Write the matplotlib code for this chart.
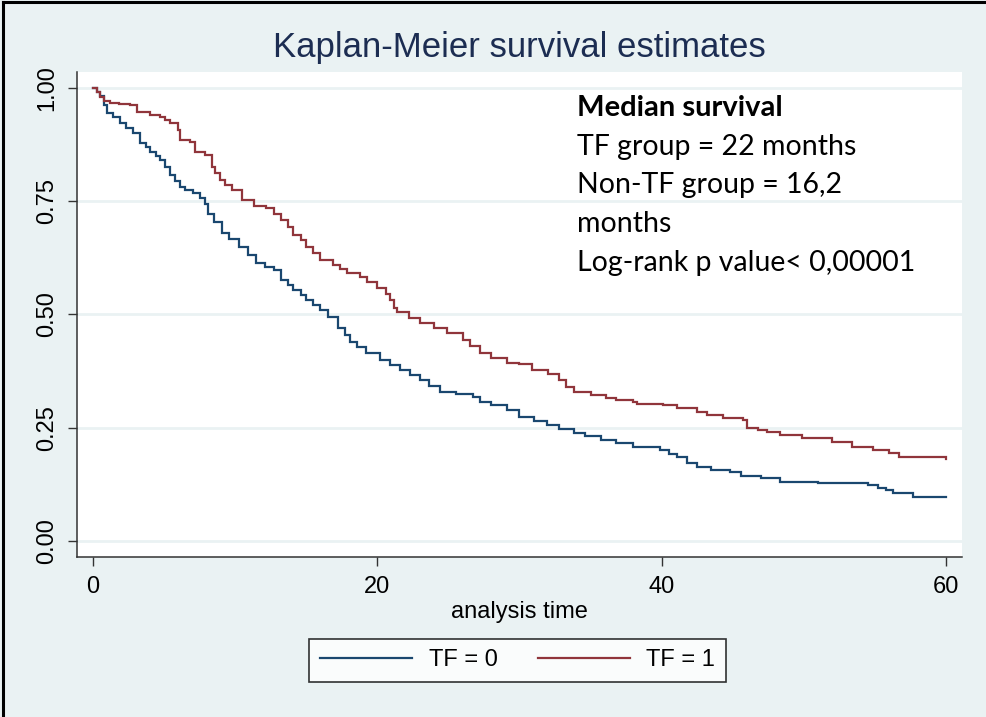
import matplotlib
matplotlib.use("Agg")
import matplotlib.pyplot as plt
from matplotlib.lines import Line2D

# Kaplan-Meier step estimates, TF = 0 group (time in months, survival)
tf0_time = [0, 0.3, 0.5, 0.8, 1.0, 1.4, 1.9, 2.3, 2.8, 3.3, 3.7, 4.0, 4.4, 4.7,
            5.1, 5.4, 5.8, 6.1, 6.5, 7.0, 7.5, 7.9, 8.1, 8.5, 9.1, 9.6, 10.3,
            10.9, 11.5, 12.1, 12.7, 13.2, 13.7, 14.1, 14.6, 15.0, 15.5, 16.0,
            16.5, 17.2, 17.7, 18.1, 18.6, 19.2, 20.2, 20.9, 21.6, 22.3, 23.0,
            23.6, 24.4, 25.5, 26.7, 27.2, 28.0, 29.1, 30.0, 31.0, 31.9, 32.8,
            33.8, 34.6, 35.7, 36.8, 38.0, 39.9, 40.5, 41.1, 41.8, 42.5, 43.5,
            44.8, 45.6, 47.0, 48.3, 51.0, 54.5, 55.2, 55.8, 56.3, 57.7, 60.0]
tf0_surv = [1.0, 0.990, 0.981, 0.962, 0.945, 0.935, 0.923, 0.912, 0.900, 0.879,
            0.870, 0.859, 0.850, 0.841, 0.825, 0.808, 0.795, 0.781, 0.775,
            0.768, 0.757, 0.744, 0.722, 0.703, 0.680, 0.667, 0.649, 0.632,
            0.614, 0.605, 0.598, 0.576, 0.565, 0.554, 0.543, 0.532, 0.521,
            0.510, 0.494, 0.470, 0.455, 0.440, 0.428, 0.415, 0.400, 0.388,
            0.377, 0.366, 0.355, 0.342, 0.329, 0.324, 0.318, 0.307, 0.300,
            0.289, 0.274, 0.265, 0.256, 0.247, 0.238, 0.231, 0.223, 0.216,
            0.207, 0.200, 0.193, 0.185, 0.172, 0.163, 0.158, 0.152, 0.143,
            0.139, 0.130, 0.128, 0.124, 0.118, 0.112, 0.106, 0.097, 0.097]

# Kaplan-Meier step estimates, TF = 1 group
tf1_time = [0, 0.3, 0.5, 0.8, 1.2, 1.8, 2.6, 3.1, 4.0, 4.7, 5.1, 5.4, 6.0, 6.1,
            6.8, 7.2, 7.9, 8.4, 8.6, 8.9, 9.3, 9.8, 10.5, 11.3, 12.2, 12.7,
            13.2, 13.7, 14.1, 14.6, 15.0, 15.5, 16.0, 16.9, 17.4, 17.9, 18.8,
            19.3, 20.0, 20.6, 20.9, 21.2, 21.4, 22.2, 23.0, 24.0, 24.9, 26.0,
            26.5, 27.2, 28.0, 29.1, 30.0, 30.9, 32.0, 32.8, 33.3, 33.8, 35.0,
            36.1, 36.8, 38.0, 38.3, 40.1, 41.1, 42.5, 43.2, 44.3, 45.7, 46.0,
            46.8, 47.4, 48.3, 49.9, 52.0, 53.4, 54.9, 56.0, 56.7, 59.7, 60.0]
tf1_surv = [1.0, 0.990, 0.980, 0.972, 0.967, 0.965, 0.962, 0.947, 0.940, 0.936,
            0.930, 0.923, 0.907, 0.885, 0.881, 0.859, 0.852, 0.826, 0.812,
            0.797, 0.785, 0.775, 0.753, 0.740, 0.735, 0.722, 0.709, 0.692,
            0.675, 0.665, 0.650, 0.636, 0.620, 0.610, 0.600, 0.592, 0.583,
            0.572, 0.558, 0.545, 0.532, 0.515, 0.506, 0.493, 0.481, 0.470,
            0.459, 0.444, 0.430, 0.415, 0.405, 0.393, 0.390, 0.377, 0.368,
            0.355, 0.340, 0.329, 0.322, 0.316, 0.311, 0.307, 0.302, 0.300,
            0.294, 0.285, 0.278, 0.272, 0.267, 0.249, 0.245, 0.241, 0.234,
            0.227, 0.219, 0.207, 0.201, 0.194, 0.185, 0.185, 0.181]

x_ticks = [0, 20, 40, 60]
y_ticks = [0.0, 0.25, 0.5, 0.75, 1.0]
y_ticklabels = ["0.00", "0.25", "0.50", "0.75", "1.00"]
legend_labels = ["TF = 0", "TF = 1"]
title_text = "Kaplan-Meier survival estimates"
xlabel_text = "analysis time"
note_header = "Median survival"
note_lines = ["TF group = 22 months", "Non-TF group = 16,2", "months",
              "Log-rank p value< 0,00001"]

BG = "#EAF2F3"
NAVY = "#1A476F"
MAROON = "#90353B"
SANS = ["Liberation Sans", "DejaVu Sans"]
NOTE_FONT = ["Lato", "DejaVu Sans"]

fig = plt.figure(figsize=(9.87, 7.17), dpi=100, facecolor=BG)
ax = fig.add_axes([77 / 987, 1 - 557 / 717, 885 / 987, 485 / 717])
ax.set_facecolor("white")

ax.set_xlim(-1.125, 61.125)
ax.set_ylim(-0.035, 1.035)

for yv in y_ticks:
    ax.axhline(yv, color=BG, lw=2.0, zorder=1)

ax.plot(tf0_time, tf0_surv, drawstyle="steps-post", color=NAVY, lw=1.6,
        zorder=3, solid_joinstyle="miter")
ax.plot(tf1_time, tf1_surv, drawstyle="steps-post", color=MAROON, lw=1.6,
        zorder=3, solid_joinstyle="miter")

for side in ("top", "right"):
    ax.spines[side].set_visible(False)
for side in ("left", "bottom"):
    ax.spines[side].set_color("#333333")
    ax.spines[side].set_linewidth(1.1)

ax.set_xticks(x_ticks)
ax.set_xticklabels([str(v) for v in x_ticks], family=SANS, fontsize=17)
ax.set_yticks(y_ticks)
ax.set_yticklabels(y_ticklabels, family=SANS, fontsize=17, rotation=90,
                   va="center")
ax.tick_params(axis="both", direction="out", length=6.5, width=1.0,
               color="#333333", pad=7)
ax.set_xlabel(xlabel_text, family=SANS, fontsize=17, labelpad=2)

fig.text(519.5 / 987, 1 - 47 / 717, title_text, family=SANS, fontsize=25,
         color="#1C2D52", ha="center", va="center")

# Median survival note
note_x = 577 / 987
fig.text(note_x, 1 - 116 / 717, note_header, family=NOTE_FONT,
         fontsize=21, fontweight="bold", ha="left", va="baseline")
for i, line in enumerate(note_lines):
    fig.text(note_x, 1 - (155 + 38.5 * i) / 717, line, family=NOTE_FONT,
             fontsize=20.5, ha="left", va="baseline")

handles = [Line2D([], [], color=NAVY, lw=1.6), Line2D([], [], color=MAROON, lw=1.6)]
leg = fig.legend(handles, legend_labels, loc="center",
                 bbox_to_anchor=(517.5 / 987, 1 - 660.5 / 717), ncol=2,
                 frameon=True, fancybox=False, prop={"family": SANS, "size": 17},
                 handlelength=3.9, handletextpad=0.7, columnspacing=1.7,
                 borderpad=0.45)
leg.get_frame().set_edgecolor("black")
leg.get_frame().set_linewidth(1.2)
leg.get_frame().set_facecolor("white")

# outer frame on the left and top edges
fig.add_artist(Line2D([3 / 987, 3 / 987], [0, 1 - 2 / 717], color="black",
                      lw=2.2, transform=fig.transFigure))
fig.add_artist(Line2D([3 / 987, 1], [1 - 2 / 717, 1 - 2 / 717], color="black",
                      lw=2.2, transform=fig.transFigure))

fig.savefig("out.png", dpi=100, facecolor=BG)
